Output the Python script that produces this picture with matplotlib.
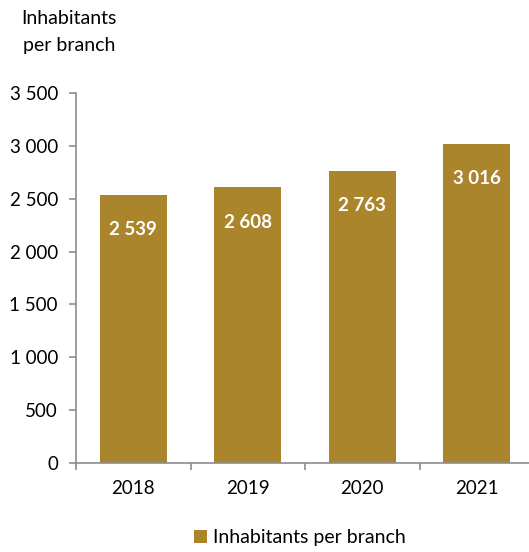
import matplotlib.pyplot as plt
from matplotlib.ticker import FuncFormatter

years = ["2018", "2019", "2020", "2021"]
inhabitants = [2539, 2608, 2763, 3016]
yticks = [0, 500, 1000, 1500, 2000, 2500, 3000, 3500]

bar_color = "#AB852C"
axis_color = "#8C8C8C"

plt.rcParams["font.family"] = ["Lato", "DejaVu Sans"]

fig = plt.figure(figsize=(5.29, 5.52), dpi=100)
ax = fig.add_axes([76 / 529, 1 - 463 / 552, 458 / 529, 370 / 552])

x = list(range(len(years)))
bars = ax.bar(x, inhabitants, width=0.585, color=bar_color, label="Inhabitants per branch")

def space_thousands(v, pos=None):
    return f"{int(v):,}".replace(",", " ")

# value labels inside the top of each bar
for xi, v in zip(x, inhabitants):
    ax.annotate(space_thousands(v), (xi, v), xytext=(0, -25), textcoords="offset points",
                ha="center", va="center", color="white", fontsize=13.5, fontweight="bold")

ax.set_xlim(-0.5, 3.5)
ax.set_ylim(0, 3500)
ax.set_yticks(yticks)
ax.yaxis.set_major_formatter(FuncFormatter(space_thousands))
ax.set_xticks(x)
ax.set_xticklabels(years)
ax.set_xticks([-0.5, 0.5, 1.5, 2.5, 3.5], minor=True)

for side in ["top", "right"]:
    ax.spines[side].set_visible(False)
for side in ["left", "bottom"]:
    ax.spines[side].set_color(axis_color)
    ax.spines[side].set_linewidth(1.2)

ax.tick_params(axis="y", which="major", direction="out", length=5, width=1.2,
               color=axis_color, labelsize=13.5, pad=8)
ax.tick_params(axis="x", which="major", length=0, labelsize=13.5, pad=12)
ax.tick_params(axis="x", which="minor", direction="out", length=5, width=1.2, color=axis_color)

fig.text(69 / 529, 1 - 32 / 552, "Inhabitants\nper branch", ha="center", va="center",
         fontsize=14, linespacing=1.65)

fig.legend(handles=[bars], loc="center", bbox_to_anchor=(300 / 529, 1 - 538 / 552),
           frameon=False, fontsize=14, handlelength=0.65, handleheight=0.65, handletextpad=0.3)

fig.savefig("out.png", dpi=100)
